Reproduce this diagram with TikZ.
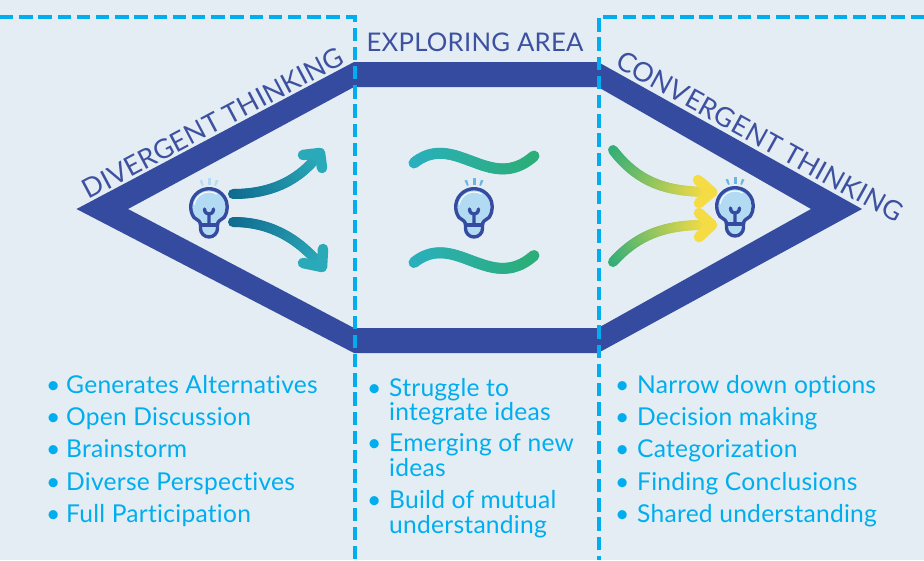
\documentclass[tikz,border=0pt]{standalone}
\usepackage{fontspec}
\setmainfont{Lato}[LetterSpace=1,Ligatures=NoCommon]
\definecolor{bgc}{HTML}{E3EDF3}
\definecolor{band}{HTML}{344B9F}
\definecolor{dashc}{HTML}{00AEEF}
\definecolor{headc}{HTML}{3E51A1}
\definecolor{bulbfill}{HTML}{B2DAF3}
\definecolor{rayl}{HTML}{B5DCF2}
\definecolor{rayd}{HTML}{6BB5E3}
\definecolor{tealA}{HTML}{0F6A8E}
\definecolor{tealB}{HTML}{2AA9B8}
\definecolor{greenA}{HTML}{2EAD78}
\definecolor{yellowB}{HTML}{F5DC45}
\definecolor{waveA}{HTML}{2AAFBF}
\definecolor{waveB}{HTML}{2BAE7A}
\tikzset{
  heading/.style={text=headc,font=\fontsize{25.7}{26}\selectfont,inner sep=0pt},
  slanted/.style={text=headc,font=\fontsize{26.9}{27}\selectfont,inner sep=0pt},
  item/.style={text=dashc,font=\fontsize{24.6}{25}\selectfont,anchor=base west,inner sep=0pt},
  frame/.style={draw=dashc,line width=4pt,dash pattern=on 13.4pt off 5.8pt},
  bulbline/.style={draw=band,line width=3.4pt,line cap=round,line join=round},
}
\newcommand{\gcurve}[9]{%
  \foreach \i in {1,...,48}{%
    \pgfmathsetmacro\ta{(\i-1)/48}%
    \pgfmathsetmacro\tb{\i/48}%
    \pgfmathsetmacro\xa{(1-\ta)^3*#1+3*(1-\ta)^2*\ta*#3+3*(1-\ta)*\ta^2*#5+\ta^3*#7}%
    \pgfmathsetmacro\ya{(1-\ta)^3*#2+3*(1-\ta)^2*\ta*#4+3*(1-\ta)*\ta^2*#6+\ta^3*#8}%
    \pgfmathsetmacro\xb{(1-\tb)^3*#1+3*(1-\tb)^2*\tb*#3+3*(1-\tb)*\tb^2*#5+\tb^3*#7}%
    \pgfmathsetmacro\yb{(1-\tb)^3*#2+3*(1-\tb)^2*\tb*#4+3*(1-\tb)*\tb^2*#6+\tb^3*#8}%
    \pgfmathsetmacro\pc{100*(1-\tb)}%
    \draw[draw={gradA!\pc!gradB},line width=#9,line cap=round] (\xa,\ya) -- (\xb,\yb);
  }%
}
\newcommand{\arrowhead}[6]{%
  \draw[draw=gradB,line width=10.5pt,line cap=round,line join=round] (#3,#4) -- (#1,#2) -- (#5,#6);
}
\newcommand{\bulb}[3]{%
  \begin{scope}[shift={(#1,#2)}]
    \fill[#3] (-9.5,-26.5) -- ++(2.6,-.6) -- ++(1.6,5.4) -- ++(-1.6,.6) -- cycle;
    \fill[#3] (-1.5,-29) rectangle (1.5,-22.5);
    \fill[#3] (9.5,-26.5) -- ++(-2.6,-.6) -- ++(-1.6,5.4) -- ++(1.6,.6) -- cycle;
    \path[fill=bulbfill,bulbline]
      (-8.5,18) .. controls (-8.5,14) and (-11,13.5) .. (-15,10.5)
      arc[start angle=145,end angle=395,radius=18.3]
      .. controls (11,13.5) and (8.5,14) .. (8.5,18)
      -- (8.5,21.5) arc[start angle=0,end angle=180,radius=8.5] -- cycle;
    \draw[white,line width=1pt,line cap=round] (190:15) arc[start angle=190,end angle=300,radius=15];
    \draw[bulbline] (-8.5,18) -- (8.5,18);
    \draw[bulbline] (0,18) -- (0,7) (-4.5,2) .. controls (-4.5,6) and (-1.5,7) .. (0,7) .. controls (1.5,7) and (4.5,6) .. (4.5,2);
  \end{scope}
}
\begin{document}
\begin{tikzpicture}[x=1pt,y=-1pt]
\useasboundingbox (0,0) rectangle (924,560);
\fill[bgc] (0,0) rectangle (924,560);
% hexagonal band
\fill[band,even odd rule]
  (76.5,209) -- (354,62) -- (598,62) -- (862,209) -- (598,353) -- (354,353) -- cycle
  (128,209) -- (354,87) -- (598,87) -- (811,209) -- (598,328) -- (354,328) -- cycle;
% dashed frames
\draw[frame] (0,17.3) -- (354.5,17.3) -- (354.5,560);
\draw[frame] (924,17.3) -- (598.5,17.3) -- (598.5,560);
% headings
\node[slanted,rotate=28] (div) at (213,123) {DIVERGENT THINKING};
\node[heading] (exp) at (475,42) {EXPLORING AREA};
\node[slanted,rotate=-29] (con) at (760,136.5) {CONVERGENT THINKING};
% left arrows
\colorlet{gradA}{tealA}\colorlet{gradB}{tealB}
\gcurve{233}{194}{272}{194}{300}{180}{320}{153}{10pt}
\arrowhead{320}{153}{303}{155}{322}{168}
\gcurve{233}{222}{272}{222}{300}{240}{322}{267}{10pt}
\arrowhead{322}{267}{303}{263}{323}{249}
% right arrows
\colorlet{gradA}{greenA}\colorlet{gradB}{yellowB}
\gcurve{613}{150}{640}{185}{670}{192}{712}{192}{10pt}
\arrowhead{712}{192}{698}{180}{699}{203}
\gcurve{613}{262}{640}{232}{670}{224}{712}{225}{10pt}
\arrowhead{712}{225}{699}{213}{699}{237}
% waves
\colorlet{gradA}{waveA}\colorlet{gradB}{waveB}
\gcurve{414}{163}{455}{130}{490}{195}{534}{156}{11pt}
\gcurve{414}{262.5}{455}{229.5}{490}{294.5}{534}{255.5}{11pt}
% bulbs
\bulb{209}{207}{rayl}
\bulb{474}{207}{rayd}
\bulb{735}{206}{rayd}
% left list
\node[item] (lb1) at (46,393) {•}; \node[item] (l1) at (66,393) {Generates Alternatives};
\node[item] (lb2) at (46,425) {•}; \node[item] (l2) at (66,425) {Open Discussion};
\node[item] (lb3) at (46,457) {•}; \node[item] (l3) at (66,457) {Brainstorm};
\node[item] (lb4) at (46,490) {•}; \node[item] (l4) at (66,490) {Diverse Perspectives};
\node[item] (lb5) at (46,522) {•}; \node[item] (l5) at (66,522) {Full Participation};
% middle list
\node[item] (mb1) at (367,396) {•}; \node[item] (m1) at (389,396) {Struggle to};
\node[item] (m1b) at (389,420) {integrate ideas};
\node[item] (mb2) at (367,451) {•}; \node[item] (m2) at (389,451) {Emerging of new};
\node[item] (m2b) at (389,476) {ideas};
\node[item] (mb3) at (367,508) {•}; \node[item] (m3) at (389,508) {Build of mutual};
\node[item] (m3b) at (389,533) {understanding};
% right list
\node[item] (rb1) at (615,393) {•}; \node[item] (r1) at (637,393) {Narrow down options};
\node[item] (rb2) at (615,425) {•}; \node[item] (r2) at (637,425) {Decision making};
\node[item] (rb3) at (615,457) {•}; \node[item] (r3) at (637,457) {Categorization};
\node[item] (rb4) at (615,490) {•}; \node[item] (r4) at (637,490) {Finding Conclusions};
\node[item] (rb5) at (615,522) {•}; \node[item] (r5) at (637,522) {Shared understanding};
\end{tikzpicture}
\end{document}
